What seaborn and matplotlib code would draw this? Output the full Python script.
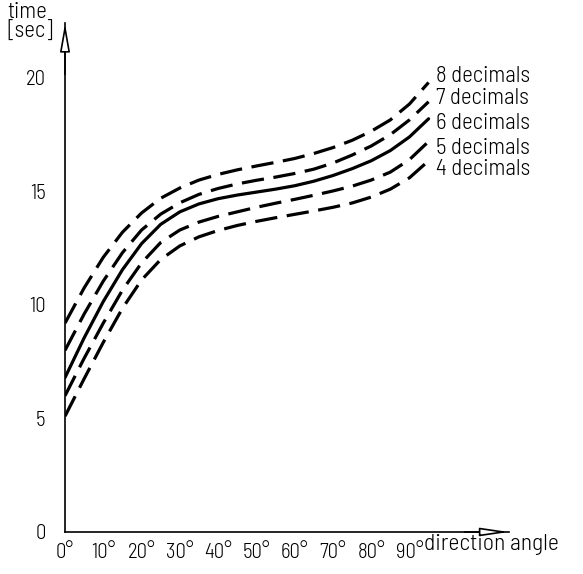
import numpy as np
import pandas as pd
import matplotlib
matplotlib.use("Agg")
import matplotlib.pyplot as plt
import seaborn as sns

angles = [0, 5, 10, 15, 20, 25, 30, 35, 40, 45, 50, 55, 60, 65, 70, 75, 80, 85, 90, 95]
dec8 = [9.2, 10.75, 12.1, 13.2, 14.05, 14.7, 15.15, 15.5, 15.75, 15.95, 16.12, 16.28, 16.45, 16.67, 16.93, 17.25, 17.65, 18.15, 18.85, 19.8]
dec7 = [8.0, 9.6, 11.05, 12.3, 13.3, 14.0, 14.5, 14.87, 15.13, 15.33, 15.49, 15.63, 15.79, 15.98, 16.25, 16.6, 17.0, 17.5, 18.15, 18.95]
dec6 = [6.8, 8.55, 10.15, 11.55, 12.7, 13.55, 14.1, 14.45, 14.68, 14.84, 14.97, 15.1, 15.25, 15.45, 15.7, 16.0, 16.35, 16.8, 17.4, 18.2]
dec5 = [6.0, 7.65, 9.2, 10.65, 11.85, 12.75, 13.3, 13.65, 13.9, 14.1, 14.3, 14.48, 14.65, 14.83, 15.02, 15.23, 15.5, 15.85, 16.4, 17.2]
dec4 = [5.1, 6.75, 8.35, 9.85, 11.1, 12.0, 12.6, 13.0, 13.28, 13.5, 13.68, 13.84, 13.99, 14.14, 14.3, 14.49, 14.75, 15.1, 15.6, 16.35]
series_names = ["8 decimals", "7 decimals", "6 decimals", "5 decimals", "4 decimals"]
series_values = [dec8, dec7, dec6, dec5, dec4]
y_ticks = [0, 5, 10, 15, 20]
x_ticks = [0, 10, 20, 30, 40, 50, 60, 70, 80, 90]
x_tick_labels = [f"{a}°" for a in x_ticks]

rows = []
for name, vals in zip(series_names, series_values):
    for a, v in zip(angles, vals):
        rows.append({"angle": a, "time": v, "series": name})
df = pd.DataFrame(rows)

sns.set_style("white")
plt.rcParams["font.family"] = ["Barlow Semi Condensed", "DejaVu Sans"]
plt.rcParams["font.weight"] = 300
plt.rcParams["text.color"] = "black"
plt.rcParams["xtick.color"] = "black"
plt.rcParams["ytick.color"] = "black"

fig = plt.figure(figsize=(5.83, 5.74), dpi=100)
ax = fig.add_axes([0.1115, 0.0732, 0.7615, 0.886])

dash = (7, 3)
dashes = {n: ("" if n == "6 decimals" else dash) for n in series_names}
palette = {n: "black" for n in series_names}
sns.lineplot(data=df, x="angle", y="time", hue="series", style="series",
             dashes=dashes, palette=palette, legend=False, lw=2.3, ax=ax,
             sort=False)
for ln in ax.get_lines():
    ln.set_solid_joinstyle("round")
    ln.set_dash_joinstyle("round")

ax.set_xlim(0, 116)
ax.set_ylim(0, 22.4)
ax.set_xlabel("")
ax.set_ylabel("")
ax.set_xticks(x_ticks)
ax.set_xticklabels(x_tick_labels)
ax.set_yticks(y_ticks)
ax.tick_params(axis="both", direction="out", width=1, color="black",
               labelsize=15, labelcolor="black")
ax.tick_params(axis="x", length=7, pad=1)
ax.tick_params(axis="y", length=9, pad=5)
for s in ["top", "right"]:
    ax.spines[s].set_visible(False)
for s in ["left", "bottom"]:
    ax.spines[s].set_color("black")
    ax.spines[s].set_linewidth(1.2)

ax.annotate("", xy=(0, 1), xytext=(0, 0.9), xycoords="axes fraction",
            arrowprops=dict(arrowstyle="-|>,head_length=1.7,head_width=0.3",
                            fc="white", ec="black", lw=1.2, shrinkA=0, shrinkB=0))
ax.annotate("", xy=(1, 0), xytext=(0.9, 0), xycoords="axes fraction",
            arrowprops=dict(arrowstyle="-|>,head_length=1.7,head_width=0.25",
                            fc="white", ec="black", lw=1.2, shrinkA=0, shrinkB=0))

label_y = [20.05, 19.1, 18.0, 16.9, 15.95]
for name, ly in zip(series_names, label_y):
    ax.text(97, ly, name, fontsize=16.5, va="center", ha="left", color="black")

fig.text(424 / 583, 1 - 534 / 574, "direction angle", fontsize=17, va="top", ha="left")
fig.text(0.012, 0.997, "time\n[sec]", fontsize=16.5, va="top", ha="left", linespacing=0.95)

fig.savefig("out.png", dpi=100)
